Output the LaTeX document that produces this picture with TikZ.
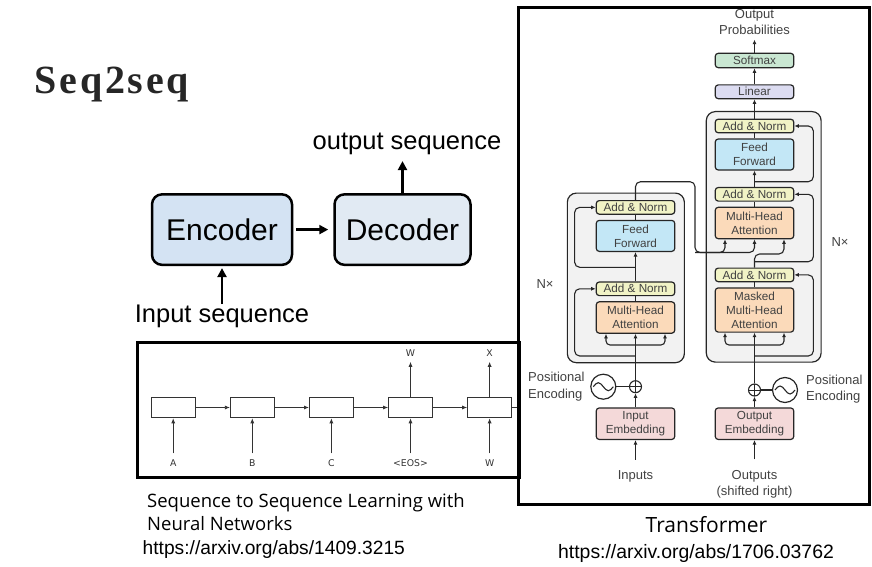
\documentclass[tikz,border=0pt]{standalone}
\usepackage{fontspec}
\setmainfont{Liberation Sans}
\newfontfamily\titlefont[LetterSpace=7]{Liberation Serif}
\newfontfamily\capfont{Open Sans}
\newfontfamily\rnnfont{DejaVu Sans}
\usetikzlibrary{arrows.meta, positioning}
\definecolor{encfill}{RGB}{212,227,243}
\definecolor{decfill}{RGB}{225,234,243}
\definecolor{stackgray}{RGB}{242,242,242}
\definecolor{addnormcol}{RGB}{241,243,198}
\definecolor{ffncol}{RGB}{195,231,246}
\definecolor{attncol}{RGB}{251,218,186}
\definecolor{softcol}{RGB}{201,231,210}
\definecolor{lincol}{RGB}{220,220,241}
\definecolor{embcol}{RGB}{244,217,217}
\definecolor{txtgray}{RGB}{65,65,65}

\begin{document}
\begin{tikzpicture}[x=1pt, y=-1pt,
        seqbox/.style={rectangle, draw, line width=2.5pt, rounded corners=10pt, minimum width=140pt, minimum height=70.5pt, font=\fontsize{30}{36}\selectfont},
        seqlabel/.style={inner sep=0pt, font=\fontsize{25.5}{30}\selectfont},
        bigarrow/.style={-{Triangle[length=9pt, width=9pt]}, line width=2.6pt},
        paneframe/.style={draw, line width=3pt},
        cell/.style={rectangle, draw=black!80, line width=0.8pt, minimum width=44pt, minimum height=20.7pt, inner sep=0pt},
        token/.style={inner sep=0pt, text=black!80, font=\rnnfont\fontsize{9.3}{11}\selectfont},
        rnnarrow/.style={-{Latex[length=5pt, width=4pt]}, line width=0.8pt, black!80},
        stack/.style={rectangle, draw=black!85, line width=1.2pt, rounded corners=9pt, fill=stackgray, inner sep=0pt},
        block/.style={rectangle, draw=black!85, line width=1.2pt, rounded corners=3pt, minimum width=78.5pt, align=center, inner sep=0pt, text=txtgray, font=\fontsize{11.7}{14}\selectfont},
        addnorm/.style={block, fill=addnormcol, minimum height=13.6pt},
        ffn/.style={block, fill=ffncol, minimum height=31pt},
        attention/.style={block, fill=attncol, minimum height=31.4pt},
        embed/.style={block, fill=embcol, minimum height=31.5pt},
        tlabel/.style={inner sep=0pt, text=txtgray, font=\fontsize{13}{16.3}\selectfont},
        oplus/.style={circle, draw=black!85, line width=1.1pt, minimum size=12pt, inner sep=0pt,
            path picture={\draw[line width=1pt] (path picture bounding box.north) -- (path picture bounding box.south) (path picture bounding box.west) -- (path picture bounding box.east);}},
        wave/.style={circle, draw=black!85, line width=1.2pt, minimum size=25pt, inner sep=0pt,
            path picture={\draw[line width=1.1pt] ([xshift=-10pt]path picture bounding box.center) sin ++(5pt,4pt) cos ++(5pt,-4pt) sin ++(5pt,-4pt) cos ++(5pt,4pt);}},
        flow/.style={-{Latex[length=4.5pt, width=4pt]}, line width=1.1pt, black!85},
        link/.style={line width=1.1pt, black!85}
        ]
        \useasboundingbox (0,0) rectangle (872,567);

        % Seq2seq
        \node (title) [anchor=base west, text=black!85, font=\titlefont\bfseries\fontsize{40}{40}\selectfont] at (31,94) {Seq2seq};
        \node (enc) [seqbox, fill=encfill] at (222,229.6) {Encoder};
        \node (dec) [seqbox, fill=decfill, minimum width=136pt, right=40pt of enc] {Decoder};
        \node (inseq) [seqlabel, below=39pt of enc] {Input sequence};
        \node (outseq) [seqlabel, above=38pt of dec, xshift=4.5pt] {output sequence};

        \draw [bigarrow, shorten <=3pt, shorten >=5pt] (enc) -- (dec);
        \draw [bigarrow, shorten <=1pt, shorten >=2pt] (inseq) -- (enc);
        \draw [bigarrow, shorten >=6pt] (dec.north) -- (dec.north |- outseq.south);

        % RNN picture
        \draw [paneframe] (137,342) rectangle (519,477);
        \node (cell1) [cell] at (173.2,407.5) {};
        \node (cell2) [cell, right=34.3pt of cell1] {};
        \node (cell3) [cell, right=34.3pt of cell2] {};
        \node (cell4) [cell, right=34.3pt of cell3] {};
        \node (cell5) [cell, right=34.3pt of cell4] {};
        \coordinate (cellcut) at (518,407.5);

        \node (inA) [token, below=41pt of cell1] {A};
        \node (inB) [token, below=41pt of cell2] {B};
        \node (inC) [token, below=41pt of cell3] {C};
        \node (inEOS) [token, below=41pt of cell4] {<EOS>};
        \node (inW) [token, below=41pt of cell5] {W};
        \node (outW) [token, above=40pt of cell4] {W};
        \node (outX) [token, above=40pt of cell5] {X};

        \draw [rnnarrow, shorten <=6pt] (inA) -- (cell1);
        \draw [rnnarrow, shorten <=6pt] (inB) -- (cell2);
        \draw [rnnarrow, shorten <=6pt] (inC) -- (cell3);
        \draw [rnnarrow, shorten <=6pt] (inEOS) -- (cell4);
        \draw [rnnarrow, shorten <=6pt] (inW) -- (cell5);
        \draw [rnnarrow] (cell1) -- (cell2);
        \draw [rnnarrow] (cell2) -- (cell3);
        \draw [rnnarrow] (cell3) -- (cell4);
        \draw [rnnarrow] (cell4) -- (cell5);
        \draw [line width=0.8pt, black!80] (cell5) -- (cellcut);
        \draw [rnnarrow, shorten >=5pt] (cell4) -- (outW);
        \draw [rnnarrow, shorten >=5pt] (cell5) -- (outX);

        % Transformer picture
        \draw [paneframe] (518,8) rectangle (869,504);
        \node (encstack) [stack, minimum width=117pt, minimum height=169.6pt] at (625.85,277.9) {};
        \node (decstack) [stack, minimum width=114.8pt, minimum height=250.5pt] at (763.7,236.85) {};

        % encoder side
        \node (encmha) [attention] at (635.5,317.5) {Multi-Head\\Attention};
        \node (encan1) [addnorm, above=5pt of encmha] {Add \& Norm};
        \node (encff) [ffn] at (635.5,235.9) {Feed\\Forward};
        \node (encan2) [addnorm, above=5pt of encff] {Add \& Norm};
        \node (inemb) [embed] at (635.5,423.7) {Input\\Embedding};
        \node (encadd) [oplus] at (635.5,386.7) {};
        \node (encwave) [wave] at (603.3,386.7) {};
        \node (encpos) [tlabel, anchor=west, align=left] at (528,386.7) {Positional\\Encoding};
        \node (inputs) [tlabel] at (635.5,476.5) {Inputs};
        \node (encN) [tlabel] at (545,284) {N×};

        % decoder side
        \node (softmax) [block, fill=softcol, minimum height=14.4pt] at (754.5,60.5) {Softmax};
        \node (linear) [block, fill=lincol, minimum height=13.8pt] at (754.5,91.8) {Linear};
        \node (decan3) [addnorm] at (754.5,126) {Add \& Norm};
        \node (decff) [ffn, below=5pt of decan3] {Feed\\Forward};
        \node (decmha) [attention] at (754.5,223) {Multi-Head\\Attention};
        \node (decan2) [addnorm, above=5pt of decmha] {Add \& Norm};
        \node (decmasked) [attention, minimum height=44.2pt] at (754.5,310) {Masked\\Multi-Head\\Attention};
        \node (decan1) [addnorm, above=5pt of decmasked] {Add \& Norm};
        \node (outemb) [embed] at (754.5,423.7) {Output\\Embedding};
        \node (decadd) [oplus] at (754.5,390) {};
        \node (decwave) [wave] at (785,390) {};
        \node (decpos) [tlabel, anchor=west, align=left] at (806,389) {Positional\\Encoding};
        \node (outputs) [tlabel, align=center] at (754.5,484) {Outputs\\(shifted right)};
        \node (outprob) [tlabel, align=center] at (754.5,22) {Output\\Probabilities};
        \node (decN) [tlabel] at (840,242.3) {N×};

        % branch points
        \coordinate (encsplit) at (635.5,345);
        \coordinate (encres1) at (635.5,356);
        \coordinate (encres2) at (635.5,267.3);
        \coordinate (encturn) at (695,181.7);
        \coordinate (kvturn) at (695,252.5);
        \coordinate (decsplit) at (754.5,345);
        \coordinate (decres1) at (754.5,356);
        \coordinate (decres2) at (754.5,261.7);
        \coordinate (qturn) at (754.5,254);
        \coordinate (decres3) at (754.5,181.7);

        % Arrows encoder
        \draw [flow, shorten <=10.5pt] (inputs) -- (inemb);
        \draw [flow] (inemb) -- (encadd);
        \draw [link] (encwave) -- (encadd);
        \draw [flow] (encadd) -- (encmha);
        \draw [flow, rounded corners=4pt] (encsplit) -| ([xshift=-29.5pt]encmha.south);
        \draw [flow, rounded corners=4pt] (encsplit) -| ([xshift=29.5pt]encmha.south);
        \draw [flow, rounded corners=5pt] (encres1) -| ([xshift=-21pt]encan1.west) -- (encan1.west);
        \draw [link] (encmha) -- (encan1);
        \draw [flow] (encan1) -- (encff);
        \draw [flow, rounded corners=5pt] (encres2) -| ([xshift=-21pt]encan2.west) -- (encan2.west);
        \draw [link] (encff) -- (encan2);
        \draw [flow, rounded corners=5pt] (encan2.north) |- (encturn) -- (kvturn) -| ([xshift=-29.5pt]decmha.south);
        \draw [flow, rounded corners=5pt] (kvturn) -| (decmha.south);

        % Arrows decoder
        \draw [flow, shorten <=10.5pt] (outputs) -- (outemb);
        \draw [flow] (outemb) -- (decadd);
        \draw [link] (decadd) -- (decwave);
        \draw [flow] (decadd) -- (decmasked);
        \draw [flow, rounded corners=4pt] (decsplit) -| ([xshift=-29.5pt]decmasked.south);
        \draw [flow, rounded corners=4pt] (decsplit) -| ([xshift=29.5pt]decmasked.south);
        \draw [flow, rounded corners=5pt] (decres1) -| ([xshift=19pt]decan1.east) -- (decan1.east);
        \draw [link] (decmasked) -- (decan1);
        \draw [flow, rounded corners=5pt] (decan1.north) -- (qturn) -| ([xshift=29.5pt]decmha.south);
        \draw [flow, rounded corners=5pt] (decres2) -| ([xshift=19pt]decan2.east) -- (decan2.east);
        \draw [link] (decmha) -- (decan2);
        \draw [flow] (decan2) -- (decff);
        \draw [flow, rounded corners=5pt] (decres3) -| ([xshift=19pt]decan3.east) -- (decan3.east);
        \draw [link] (decff) -- (decan3);
        \draw [flow] (decan3) -- (linear);
        \draw [flow] (linear) -- (softmax);
        \draw [flow, shorten >=4.7pt] (softmax) -- (outprob);

        % Captions
        \node (s2scap) [anchor=north west, align=left, inner sep=0pt, font=\capfont\fontsize{18.5}{22.5}\selectfont] at (147,493.5) {Sequence to Sequence Learning with\\Neural Networks};
        \node (s2surl) [anchor=west, inner sep=0pt, font=\fontsize{19.2}{23}\selectfont] at (142.5,550) {https://arxiv.org/abs/1409.3215};
        \node (trcap) [inner sep=0pt, font=\capfont\fontsize{21}{25}\selectfont] at (706.5,525) {Transformer};
        \node (trurl) [inner sep=0pt, font=\fontsize{19.4}{24}\selectfont] at (696,553) {https://arxiv.org/abs/1706.03762};

    \end{tikzpicture}
\end{document}
